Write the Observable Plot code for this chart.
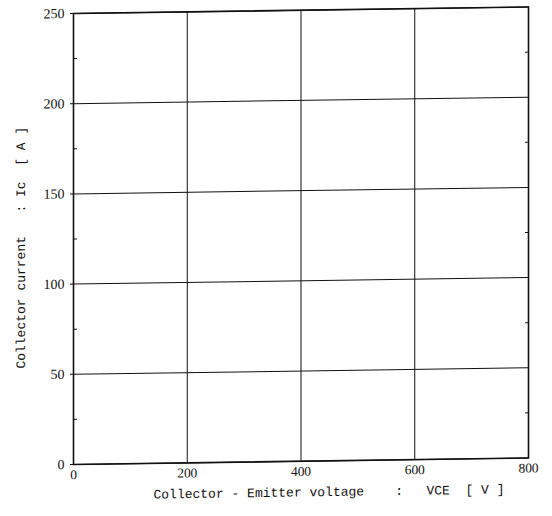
<!DOCTYPE html>
<html>
<head>
<meta charset="utf-8">
<script src="https://cdn.jsdelivr.net/npm/d3@7"></script>
<script src="https://cdn.jsdelivr.net/npm/@observablehq/plot@0.6"></script>
<style>
  html, body { margin: 0; padding: 0; background: #fff; }
  #chart svg { display: block; overflow: visible; }
</style>
</head>
<body>
<div id="chart"></div>
<script>
const xDomain = [0, 800];
const yDomain = [0, 250];
const xTicks = [0, 200, 400, 600, 800];
const yTicks = [0, 50, 100, 150, 200, 250];
const yMinorTicks = [25, 75, 125, 175, 225];
const xTitle = "Collector - Emitter voltage    :   VCE  [ V ]";
const yTitle = "Collector current   : Ic  [ A ]";

const nb = s => s.replace(/ /g, "\u00a0");
const serif = "'Liberation Serif', 'DejaVu Serif', serif";
const mono = "'Liberation Mono', 'DejaVu Sans Mono', monospace";

const chart = Plot.plot({
  width: 552,
  height: 516,
  marginLeft: 73,
  marginRight: 24,
  marginTop: 13,
  marginBottom: 52,
  style: { background: "#fff", color: "#111" },
  x: { domain: xDomain },
  y: { domain: yDomain },
  marks: [
    Plot.gridX(xTicks, { stroke: "#111", strokeOpacity: 1, strokeWidth: 1 }),
    Plot.gridY(yTicks, { stroke: "#111", strokeOpacity: 1, strokeWidth: 1 }),
    Plot.frame({ stroke: "#111", strokeWidth: 1.6 }),
    Plot.axisX(xTicks, { tickSize: 0, tickPadding: 5, fontSize: 13.5, fontFamily: serif, label: null }),
    Plot.axisY(yTicks, { anchor: "left", tickSize: 3, tickPadding: 6, fontSize: 14, fontFamily: serif, label: null }),
    Plot.axisY(yMinorTicks, { anchor: "left", tickSize: -4, tickFormat: () => "", label: null }),
    Plot.axisY(yMinorTicks, { anchor: "right", tickSize: -4, tickFormat: () => "", label: null }),
    Plot.text([nb(xTitle)], { text: d => d, frameAnchor: "bottom", textAnchor: "middle", dx: 28, dy: 31, lineAnchor: "middle", fontFamily: mono, fontSize: 13, fill: "#111" }),
    Plot.text([nb(yTitle)], { text: d => d, frameAnchor: "left", textAnchor: "middle", rotate: -90, dx: -53, dy: 8, lineAnchor: "middle", fontFamily: mono, fontSize: 13, fill: "#111" })
  ]
});
chart.style.transformOrigin = "73px 0px";
chart.style.transform = "skewY(-0.82deg)";
document.getElementById("chart").appendChild(chart);
</script>
</body>
</html>
